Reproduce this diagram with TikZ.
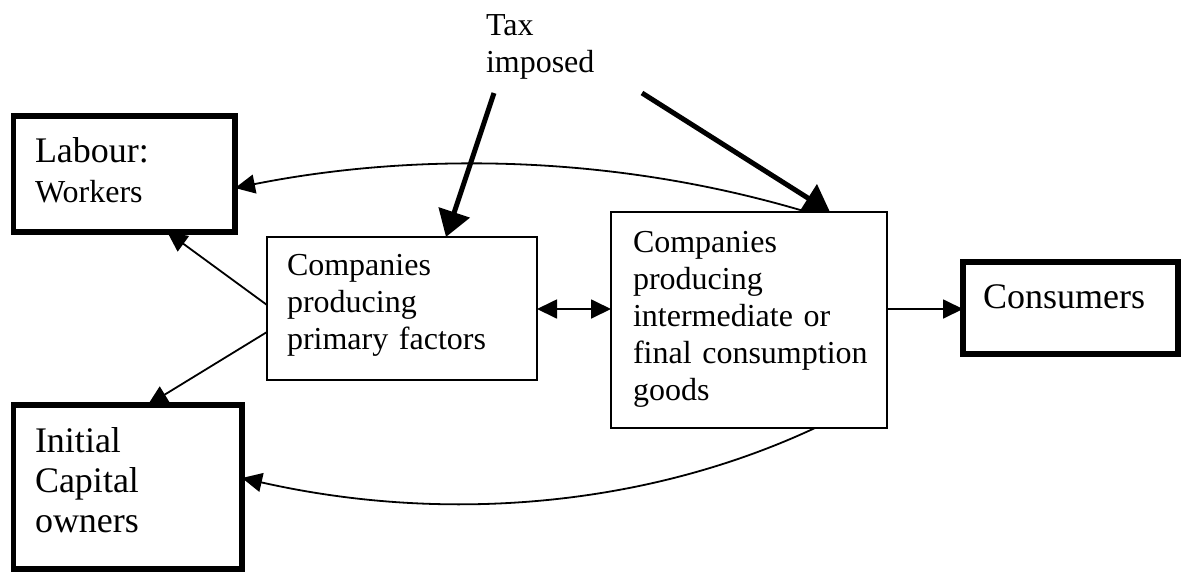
\documentclass[tikz,border=0pt]{standalone}
\usepackage{fontspec}
\setmainfont{Liberation Serif}
\usetikzlibrary{arrows.meta}
\tikzset{
  thickbox/.style={draw, line width=5.5pt, inner sep=0pt, outer sep=0pt},
  thinbox/.style={draw, line width=1.8pt, inner sep=0pt, outer sep=0pt},
  txt/.style={anchor=base west, inner sep=0pt, outer sep=0pt, align=left, text width=#1},
  conn/.style={line width=1.8pt, -{Triangle[length=20pt,width=19pt]}},
  dconn/.style={line width=1.8pt, {Triangle[length=20pt,width=19pt]}-{Triangle[length=20pt,width=19pt]}},
  taxarrow/.style={line width=5pt, -{Triangle[length=26pt,width=32pt]}},
  big/.style={font=\fontsize{36}{40}\selectfont},
  mid/.style={font=\fontsize{32}{37}\selectfont},
  lab/.style={font=\fontsize{32}{40}\selectfont}
}
\begin{document}
\begin{tikzpicture}[x=1pt,y=-1pt]
\useasboundingbox (0,0) rectangle (1183,574);
% boxes
\node[thickbox, minimum width=221.5pt, minimum height=116pt] (labour) at (124.25,174) {};
\node[thickbox, minimum width=228.5pt, minimum height=164pt] (capital) at (127.75,487) {};
\node[thinbox, minimum width=270pt, minimum height=143pt] (prim) at (402,308.5) {};
\node[thinbox, minimum width=276pt, minimum height=216pt] (inter) at (749,320) {};
\node[thickbox, minimum width=215pt, minimum height=92pt] (cons) at (1070.5,308) {};
% texts
\node[txt=190pt, lab] (labourtxt) at (35,162) {{\fontsize{36}{40}\selectfont Labour:}\\Workers};
\node[txt=200pt, big] (capitaltxt) at (35,452) {Initial\\Capital\\owners};
\node[txt=240pt, mid] (primtxt) at (287,275) {Companies\\producing\\primary factors};
\node[txt=250pt, mid] (intertxt) at (633,252) {Companies\\producing\\intermediate or\\final consumption\\goods};
\node[txt=190pt, big] (constxt) at (983,308) {Consumers};
\node[txt=150pt, mid] (tax) at (486,35) {Tax\\imposed};
% tax arrows
\coordinate (taxA) at (494,93);
\coordinate (taxB) at (642,93);
\draw[taxarrow] (taxA) -- ([xshift=44pt]prim.north);
\draw[taxarrow] (taxB) -- ([xshift=81pt]inter.north);
% connectors
\draw[conn] ([xshift=58pt]inter.north) .. controls (600,150) and (400,155) .. ([yshift=-14pt]labour.east);
\draw[conn] ([xshift=66pt]inter.south) .. controls (650,505) and (450,525) .. ([yshift=9pt]capital.east);
\draw[conn] ([yshift=3.5pt]prim.west) -- ([xshift=43pt]labour.south);
\draw[conn] ([yshift=-23.5pt]prim.west) -- ([xshift=20pt]capital.north);
\draw[dconn] ([yshift=-0.5pt]prim.east) -- ([yshift=11pt]inter.west);
\draw[conn] ([yshift=11pt]inter.east) -- ([yshift=-1pt]cons.west);
\end{tikzpicture}
\end{document}
